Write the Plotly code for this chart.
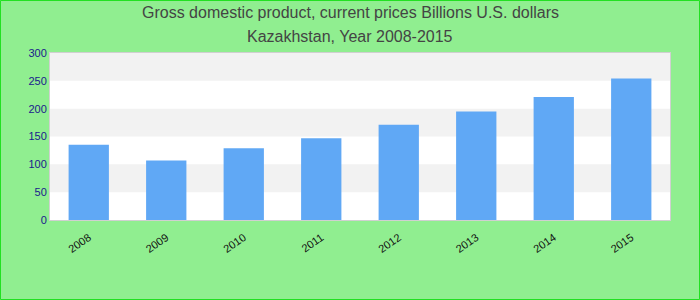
import plotly.graph_objects as go

years = ["2008", "2009", "2010", "2011", "2012", "2013", "2014", "2015"]
gdp = [135, 107, 129, 147, 171, 195, 221, 254]
y_ticks = [0, 50, 100, 150, 200, 250, 300]
title_lines = ["Gross domestic product, current prices Billions U.S. dollars",
               "Kazakhstan, Year 2008-2015"]

ML, MR, MT, MB = 50, 30, 53, 80
W, H = 700, 300
pw, ph = W - ML - MR, H - MT - MB

fig = go.Figure()
fig.add_trace(go.Bar(x=years, y=gdp, marker=dict(color="#60a8f5", line=dict(width=0)),
                     hoverinfo="x+y"))

shapes = []
for i in range(len(y_ticks) - 1):
    if i % 2 == 1:
        shapes.append(dict(type="rect", xref="paper", yref="y", x0=0, x1=1,
                           y0=y_ticks[i], y1=y_ticks[i + 1],
                           fillcolor="#f2f2f2", line=dict(width=0), layer="below"))
shapes.append(dict(type="rect", xref="paper", yref="paper",
                   x0=(-ML + 0.5) / pw, x1=1 + (MR - 0.5) / pw,
                   y0=(-MB + 0.5) / ph, y1=1 + (MT - 0.5) / ph,
                   line=dict(color="#22e022", width=1), fillcolor="rgba(0,0,0,0)"))

annotations = []
for text, py in zip(title_lines, [13, 36]):
    annotations.append(dict(text=text, xref="paper", yref="paper",
                            x=(350 - ML) / pw, y=1 + (MT - py) / ph,
                            xanchor="center", yanchor="middle", showarrow=False,
                            font=dict(family="Liberation Sans, Arial", size=16, color="#444444")))

fig.update_layout(
    width=W, height=H,
    margin=dict(l=ML, r=MR, t=MT, b=MB),
    paper_bgcolor="#90ee90",
    plot_bgcolor="#ffffff",
    bargap=0.48,
    showlegend=False,
    shapes=shapes,
    annotations=annotations,
    font=dict(family="Liberation Sans, Arial"),
    xaxis=dict(showgrid=False, tickangle=-35, tickfont=dict(size=11, color="#111111"),
               showline=True, linecolor="#d0d0d0", linewidth=1, mirror=True,
               ticks="outside", ticklen=6, tickcolor="rgba(0,0,0,0)"),
    yaxis=dict(range=[0, 300], tickvals=y_ticks, showgrid=False, zeroline=False,
               tickfont=dict(size=11, color="#1a1a8c"),
               showline=True, linecolor="#d0d0d0", linewidth=1, mirror=True, ticks=""),
)

fig.write_html("out.html")
